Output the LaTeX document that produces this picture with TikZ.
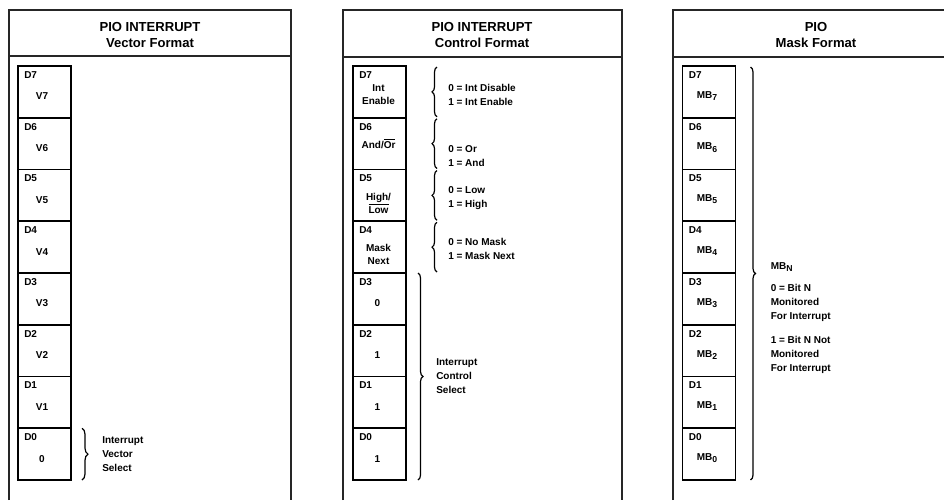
\documentclass[tikz,border=0pt]{standalone}
\usepackage{fontspec}
\setmainfont{Liberation Sans}
\usetikzlibrary{positioning, decorations.pathreplacing}

\newcommand{\ovbar}[1]{\ensuremath{\overline{\mbox{#1}}}}
\newcommand{\lowsub}[1]{\raisebox{-0.4ex}{\fontsize{6.5}{7}\selectfont #1}}

\begin{document}
\begin{tikzpicture}[
    x=0.75pt, y=-0.75pt,
    node distance = 0pt,
    % Box Styles
    frameLine/.style = {line width=1pt, draw=black!85},
    cellBox/.style = {rectangle, draw, line width=1.2pt, minimum width=39.75pt, minimum height=38.81pt, inner sep=0pt, outer sep=0pt},
    % Text Styles
    titleText/.style = {font=\fontsize{9.8}{12}\selectfont\bfseries, align=center, inner sep=0pt},
    bitTag/.style = {font=\fontsize{7.5}{9}\selectfont\bfseries, anchor=north west, inner sep=0pt},
    bitVal/.style = {font=\fontsize{7.5}{9.5}\selectfont\bfseries, align=center, inner sep=0pt},
    noteText/.style = {font=\fontsize{7.5}{10.5}\selectfont\bfseries, align=left, anchor=west, inner sep=0pt},
    % Brace Style
    braceLine/.style = {decorate, decoration={brace, amplitude=#1}, line width=0.9pt},
    braceLine/.default = 4pt
]
    \useasboundingbox (0,0) rectangle (944,500);

    % ==========================================
    % PANEL 1: VECTOR FORMAT
    % ==========================================
    \draw[frameLine] (9,500) -- (9,10) -- (291,10) -- (291,500);
    \draw[frameLine] (9,56) -- (291,56);
    \node[titleText] (VecTitle) at (150,35) {PIO INTERRUPT\\Vector Format};

    \node[cellBox] (V7) at (44.5,91.9) {};
    \node[cellBox, below=of V7] (V6) {};
    \node[cellBox, below=of V6] (V5) {};
    \node[cellBox, below=of V5] (V4) {};
    \node[cellBox, below=of V4] (V3) {};
    \node[cellBox, below=of V3] (V2) {};
    \node[cellBox, below=of V2] (V1) {};
    \node[cellBox, below=of V1] (V0) {};

    \node[bitTag] (V7t) at ([shift={(6,5)}]V7.north west) {D7}; \node[bitVal] (V7v) at ([shift={(-2.5,4.5)}]V7.center) {V7};
    \node[bitTag] (V6t) at ([shift={(6,5)}]V6.north west) {D6}; \node[bitVal] (V6v) at ([shift={(-2.5,4.5)}]V6.center) {V6};
    \node[bitTag] (V5t) at ([shift={(6,5)}]V5.north west) {D5}; \node[bitVal] (V5v) at ([shift={(-2.5,4.5)}]V5.center) {V5};
    \node[bitTag] (V4t) at ([shift={(6,5)}]V4.north west) {D4}; \node[bitVal] (V4v) at ([shift={(-2.5,4.5)}]V4.center) {V4};
    \node[bitTag] (V3t) at ([shift={(6,5)}]V3.north west) {D3}; \node[bitVal] (V3v) at ([shift={(-2.5,4.5)}]V3.center) {V3};
    \node[bitTag] (V2t) at ([shift={(6,5)}]V2.north west) {D2}; \node[bitVal] (V2v) at ([shift={(-2.5,4.5)}]V2.center) {V2};
    \node[bitTag] (V1t) at ([shift={(6,5)}]V1.north west) {D1}; \node[bitVal] (V1v) at ([shift={(-2.5,4.5)}]V1.center) {V1};
    \node[bitTag] (V0t) at ([shift={(6,5)}]V0.north west) {D0}; \node[bitVal] (V0v) at ([shift={(-2.5,4.5)}]V0.center) {0};

    \draw[braceLine=4.5pt] ([shift={(11,0)}]V0.north east) -- ([shift={(11,0)}]V0.south east);
    \node[noteText] (VecNote) at ([shift={(31,0)}]V0.east) {Interrupt\\Vector\\Select};

    % ==========================================
    % PANEL 2: CONTROL FORMAT
    % ==========================================
    \draw[frameLine] (343,500) -- (343,10) -- (622,10) -- (622,500);
    \draw[frameLine] (343,57) -- (622,57);
    \node[titleText] (CtlTitle) at (482,35) {PIO INTERRUPT\\Control Format};

    \node[cellBox] (C7) at (379.5,91.9) {};
    \node[cellBox, below=of C7] (C6) {};
    \node[cellBox, below=of C6] (C5) {};
    \node[cellBox, below=of C5] (C4) {};
    \node[cellBox, below=of C4] (C3) {};
    \node[cellBox, below=of C3] (C2) {};
    \node[cellBox, below=of C2] (C1) {};
    \node[cellBox, below=of C1] (C0) {};

    \node[bitTag] (C7t) at ([shift={(6,5)}]C7.north west) {D7}; \node[bitVal] (C7v) at ([shift={(-1,3)}]C7.center) {Int\\Enable};
    \node[bitTag] (C6t) at ([shift={(6,5)}]C6.north west) {D6}; \node[bitVal] (C6v) at ([shift={(-1,0)}]C6.center) {And/\ovbar{Or}};
    \node[bitTag] (C5t) at ([shift={(6,5)}]C5.north west) {D5}; \node[bitVal] (C5v) at ([shift={(-1,8)}]C5.center) {High/\\\ovbar{Low}};
    \node[bitTag] (C4t) at ([shift={(6,5)}]C4.north west) {D4}; \node[bitVal] (C4v) at ([shift={(-1,7)}]C4.center) {Mask\\Next};
    \node[bitTag] (C3t) at ([shift={(6,5)}]C3.north west) {D3}; \node[bitVal] (C3v) at ([shift={(-2,4.5)}]C3.center) {0};
    \node[bitTag] (C2t) at ([shift={(6,5)}]C2.north west) {D2}; \node[bitVal] (C2v) at ([shift={(-2,4.5)}]C2.center) {1};
    \node[bitTag] (C1t) at ([shift={(6,5)}]C1.north west) {D1}; \node[bitVal] (C1v) at ([shift={(-2,4.5)}]C1.center) {1};
    \node[bitTag] (C0t) at ([shift={(6,5)}]C0.north west) {D0}; \node[bitVal] (C0v) at ([shift={(-2,4.5)}]C0.center) {1};

    % upper bits: one brace per bit
    \draw[braceLine=3.75pt] ([shift={(31,-1)}]C7.south east) -- ([shift={(31,1)}]C7.north east);
    \draw[braceLine=3.75pt] ([shift={(31,-1)}]C6.south east) -- ([shift={(31,1)}]C6.north east);
    \draw[braceLine=3.75pt] ([shift={(31,-1)}]C5.south east) -- ([shift={(31,1)}]C5.north east);
    \draw[braceLine=3.75pt] ([shift={(31,-1)}]C4.south east) -- ([shift={(31,1)}]C4.north east);
    \node[noteText] (C7n) at ([shift={(42,3)}]C7.east) {0 = Int Disable\\1 = Int Enable};
    \node[noteText] (C6n) at ([shift={(42,12.5)}]C6.east) {0 = Or\\1 = And};
    \node[noteText] (C5n) at ([shift={(42,3)}]C5.east) {0 = Low\\1 = High};
    \node[noteText] (C4n) at ([shift={(42,1.5)}]C4.east) {0 = No Mask\\1 = Mask Next};

    % lower bits: one brace for the mode
    \draw[braceLine=3.75pt] ([shift={(12,0)}]C3.north east) -- ([shift={(12,0)}]C0.south east);
    \node[noteText] (CtlNote) at ([shift={(30,0)}]C1.north east) {Interrupt\\Control\\Select};

    % ==========================================
    % PANEL 3: MASK FORMAT
    % ==========================================
    \draw[frameLine] (673,500) -- (673,10) -- (944,10);
    \draw[frameLine] (673,57) -- (944,57);
    \node[titleText] (MskTitle) at (816,35) {PIO\\Mask Format};

    \node[cellBox] (M7) at (709,91.9) {};
    \node[cellBox, below=of M7] (M6) {};
    \node[cellBox, below=of M6] (M5) {};
    \node[cellBox, below=of M5] (M4) {};
    \node[cellBox, below=of M4] (M3) {};
    \node[cellBox, below=of M3] (M2) {};
    \node[cellBox, below=of M2] (M1) {};
    \node[cellBox, below=of M1] (M0) {};

    \node[bitTag] (M7t) at ([shift={(6,5)}]M7.north west) {D7}; \node[bitVal] (M7v) at ([shift={(-2,4)}]M7.center) {MB\lowsub{7}};
    \node[bitTag] (M6t) at ([shift={(6,5)}]M6.north west) {D6}; \node[bitVal] (M6v) at ([shift={(-2,4)}]M6.center) {MB\lowsub{6}};
    \node[bitTag] (M5t) at ([shift={(6,5)}]M5.north west) {D5}; \node[bitVal] (M5v) at ([shift={(-2,4)}]M5.center) {MB\lowsub{5}};
    \node[bitTag] (M4t) at ([shift={(6,5)}]M4.north west) {D4}; \node[bitVal] (M4v) at ([shift={(-2,4)}]M4.center) {MB\lowsub{4}};
    \node[bitTag] (M3t) at ([shift={(6,5)}]M3.north west) {D3}; \node[bitVal] (M3v) at ([shift={(-2,4)}]M3.center) {MB\lowsub{3}};
    \node[bitTag] (M2t) at ([shift={(6,5)}]M2.north west) {D2}; \node[bitVal] (M2v) at ([shift={(-2,4)}]M2.center) {MB\lowsub{2}};
    \node[bitTag] (M1t) at ([shift={(6,5)}]M1.north west) {D1}; \node[bitVal] (M1v) at ([shift={(-2,4)}]M1.center) {MB\lowsub{1}};
    \node[bitTag] (M0t) at ([shift={(6,5)}]M0.north west) {D0}; \node[bitVal] (M0v) at ([shift={(-2,4)}]M0.center) {MB\lowsub{0}};

    \draw[braceLine=3.75pt] ([shift={(15,1)}]M7.north east) -- ([shift={(15,0)}]M0.south east);
    \node[noteText, anchor=north west] (MskNote) at ([shift={(35,-11)}]M3.north east)
        {MB\lowsub{N}\\[6pt]0 = Bit N\\Monitored\\For Interrupt\\[7.5pt]1 = Bit N Not\\Monitored\\For Interrupt};

\end{tikzpicture}
\end{document}
